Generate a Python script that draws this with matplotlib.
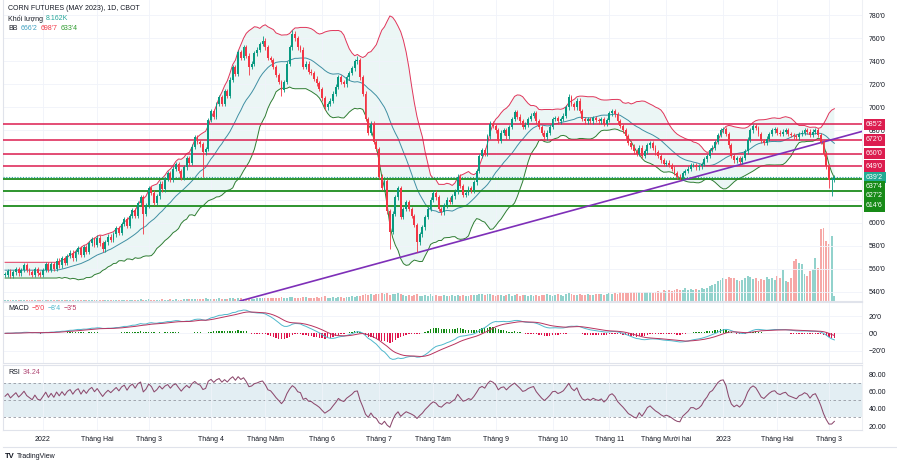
import numpy as np
import pandas as pd
import matplotlib
matplotlib.use("Agg")
import matplotlib.pyplot as plt
from matplotlib import font_manager
from matplotlib.transforms import blended_transform_factory
from matplotlib.lines import Line2D


def pick_font():
    for name in ["Liberation Sans Narrow", "Liberation Sans", "DejaVu Sans"]:
        try:
            font_manager.findfont(name, fallback_to_default=False)
            return name
        except Exception:
            pass
    return "DejaVu Sans"


FONT = pick_font()
plt.rcParams['font.family'] = [FONT, 'DejaVu Sans']

# ---------------- data ----------------
title_text = "CORN FUTURES (MAY 2023), 1D, CBOT"
start_date = "2021-12-13"
end_date = "2023-03-03"
holidays = ["2021-12-24", "2022-01-17", "2022-02-21", "2022-04-15", "2022-05-30",
            "2022-06-20", "2022-07-04", "2022-09-05", "2022-11-24", "2022-12-26",
            "2023-01-02", "2023-01-16", "2023-02-20"]

closes = [
    555, 558, 554, 557, 560, 556, 559, 563, 559, 557, 555, 560, 556, 555,
    559, 564, 559, 564, 560, 567, 563, 569, 565, 571,
    574, 569, 575, 578, 572, 579, 575, 582, 586, 581,
    587, 582, 577, 583, 588, 585, 590, 595, 591, 599,
    603, 597, 606, 611, 606, 617, 622, 608, 615, 630,
    626, 617, 623, 634, 629, 638, 643, 637, 647, 651,
    645, 639, 648, 656, 652, 666, 674, 670, 668, 661,
    664, 689, 697, 692, 703, 709, 703, 714, 710, 724,
    735, 729, 748, 743, 752, 745, 735, 738, 747, 750,
    755, 758, 752, 743, 741, 735, 728, 722, 715, 722,
    738, 752, 764, 760, 752, 750, 735, 738, 731, 730,
    725, 721, 716, 708, 700, 703, 706, 712, 718, 726,
    722, 720, 726, 730, 734, 740, 741, 726, 712, 690,
    678, 686, 670, 664, 640, 630, 636, 610, 592, 608,
    622, 630, 605, 612, 618, 612, 606, 598, 583, 590,
    596, 605, 612, 620, 626, 622, 612, 609, 615, 620,
    618, 623, 627, 640, 632, 624, 626, 630, 628, 635,
    645, 658, 663, 660, 675, 686, 684, 680, 671, 678,
    680, 675, 683, 690, 696, 692, 688, 683, 685, 690,
    693, 695, 688, 683, 678, 674, 678, 683, 690, 691,
    688, 690, 693, 700, 709, 703, 700, 706, 697, 690,
    688, 690, 688, 691, 689, 688, 690, 686, 689, 695,
    697, 694, 688, 684, 680, 675, 669, 666, 662, 660,
    665, 658, 662, 667, 669, 665, 661, 658, 654, 651,
    652, 650, 647, 643, 640, 639, 643, 645, 647, 650,
    650, 648, 649, 651, 655, 658, 663, 665, 670, 676,
    680, 681, 677, 667, 658, 654, 656, 653, 656, 662,
    672, 680, 684, 682, 677, 671, 669, 673, 677, 680,
    681, 678, 677, 679, 680, 677, 676, 675, 674, 677,
    678, 680, 679, 676, 679, 680, 676, 670, 660, 649,
    637, 637, 639.25,
]

volumes_k = [
    1, 1, 1, 1, 1, 1, 1, 1, 1, 1, 1, 1, 1, 1,
    1, 1, 1, 1, 1, 1, 1, 1, 1, 1,
    1, 1, 1, 1, 1, 1, 1, 1, 1, 1,
    2, 2, 1, 2, 2, 2, 2, 2, 2, 2,
    2, 2, 2, 2, 2, 2, 3, 2, 2, 3,
    2, 2, 2, 2, 3, 2, 2, 3, 2, 3,
    2, 2, 3, 3, 3, 3, 3, 3, 3, 3,
    4, 3, 3, 3, 3, 4, 3, 3, 3, 4,
    4, 3, 4, 4, 3, 3, 4, 3, 3, 4,
    4, 4, 5, 4, 4, 5, 5, 4, 6, 5,
    5, 6, 6, 5, 5, 5, 6, 6, 5, 5,
    5, 6, 5, 6, 7, 5, 5, 6, 5, 6,
    6, 5, 6, 6, 7, 6, 7, 7, 9, 10,
    9, 10, 9, 11, 10, 12, 11, 12, 9, 10,
    11, 12, 10, 9, 8, 9, 8, 9, 10, 8,
    8, 9, 8, 10, 8, 9, 7, 8, 9, 7,
    8, 9, 8, 9, 8, 9, 8, 8, 9, 9,
    9, 10, 11, 9, 10, 11, 9, 8, 9, 9,
    8, 9, 10, 8, 9, 10, 8, 9, 9, 8,
    9, 8, 9, 8, 9, 9, 10, 9, 8, 9,
    10, 9, 8, 11, 12, 10, 9, 9, 10, 9,
    9, 10, 9, 9, 10, 11, 10, 9, 10, 12,
    11, 12, 11, 13, 12, 12, 12, 13, 14, 13,
    13, 12, 13, 14, 13, 12, 13, 15, 14, 16,
    15, 16, 15, 17, 18, 17, 16, 19, 17, 18,
    16, 18, 17, 19, 18, 20, 22, 24, 26, 30,
    32, 34, 33, 36, 35, 34, 32, 30, 31, 34,
    38, 36, 33, 35, 30, 33, 31, 36, 33, 34,
    32, 38, 35, 46, 30, 28, 35, 60, 63, 57,
    55, 40, 38, 45, 48, 65, 50, 108, 110, 90,
    86, 98, 8.162,
]

# notable long wicks (bar index -> price)
wick_lows = {51: 590, 73: 640, 90: 728, 102: 710, 142: 577, 152: 575,
             249: 637, 304: 630, 305: 623}
wick_highs = {95: 762, 106: 767, 130: 745, 208: 712}

resistance_levels = [685.25, 672.0, 660.0, 649.0]
support_levels = [637.5, 627.25, 614.75]
last_price = 639.25
trend_points = [(86.7, 532.1), (316.2, 679.2)]  # (bar index, price)

month_labels = ["2022", "Tháng Hai", "Tháng 3", "Tháng 4", "Tháng Năm", "Tháng 6",
                "Tháng 7", "Tháng Tám", "Tháng 9", "Tháng 10", "Tháng 11",
                "Tháng Mười hai", "2023", "Tháng Hai", "Tháng 3"]

volume_label = "Khối lượng"
volume_value = "8.162K"
bb_values = ["666'2", "698'7", "633'4"]
macd_values = ["−5'0", "−8'4", "−3'5"]
rsi_value = "34.24"

# ---------------- derived ----------------
dates = pd.bdate_range(start_date, end_date, freq="C", holidays=holidays)
n = min(len(dates), len(closes), len(volumes_k))
dates = dates[:n]
c = np.array(closes[:n], dtype=float)
vol = np.array(volumes_k[:n], dtype=float)
o = np.concatenate([[c[0]], c[:-1]])
WICK = 2.0
hi = np.maximum(o, c) + WICK
lo = np.minimum(o, c) - WICK
for k, v in wick_lows.items():
    if k < n:
        lo[k] = v
for k, v in wick_highs.items():
    if k < n:
        hi[k] = v
idx = np.arange(n)
up = c >= o

# Bollinger (20, 2); the first window stands in for the bars before the view
s = pd.Series(c)
basis = s.rolling(20, min_periods=20).mean()
sd = s.rolling(20, min_periods=20).std(ddof=0)
basis[:19] = s[:20].mean()
sd[:19] = s[:20].std(ddof=0)
bb_up = basis + 2 * sd
bb_lo = basis - 2 * sd

# MACD (12, 26, 9)
ema12 = s.ewm(span=12, adjust=False).mean()
ema26 = s.ewm(span=26, adjust=False).mean()
macd = ema12 - ema26
signal = macd.ewm(span=9, adjust=False).mean()
hist = macd - signal

# RSI (14), Wilder smoothing seeded with the first 14 moves
delta = np.diff(c, prepend=c[0])
gains = np.clip(delta, 0, None)
losses = np.clip(-delta, 0, None)
ag = gains[1:15].mean()
al = losses[1:15].mean()
rsi = np.zeros(n)
for i in range(n):
    if i > 0:
        ag = (ag * 13 + gains[i]) / 14
        al = (al * 13 + losses[i]) / 14
    rsi[i] = 100 - 100 / (1 + ag / al) if al > 0 else 100

month_pos = []
seen = set()
for i, d in enumerate(dates):
    key = (d.year, d.month)
    if key not in seen:
        seen.add(key)
        if i > 0:
            month_pos.append(i)
month_pos = month_pos[:len(month_labels)]


def fmt_price(p):
    whole = int(np.floor(p + 1e-9))
    eighth = int(round((p - whole) * 8))
    if eighth == 8:
        whole, eighth = whole + 1, 0
    return f"{whole}'{eighth}"


# ---------------- figure ----------------
W, H = 897, 468
fig = plt.figure(figsize=(W / 100, H / 100), dpi=100)


def rect(x0, y0, x1, y1):
    return [x0 / W, 1 - y1 / H, (x1 - x0) / W, (y1 - y0) / H]


UP = "#089981"
DN = "#f23645"
GRID = "#f0f3fa"
BORDER = "#e0e3eb"
TXT = "#131722"
FS = 5.0
BODY_W = 0.7
XMIN, XMAX = -0.76, 316.2
YMIN, YMAX = 532.1, 793.2

ax = fig.add_axes(rect(3, 0, 862, 301))
axv = ax.twinx()
ax.set_zorder(2)
axv.set_zorder(1)
ax.patch.set_visible(False)

ax.set_xlim(XMIN, XMAX)
ax.set_ylim(YMIN, YMAX)

# volume
vcol = np.where(up, "#26a69a", "#ef5350")
axv.bar(idx, vol, width=BODY_W, color=vcol, alpha=0.5, linewidth=0)
axv.set_ylim(0, 301 * 1.5)
axv.set_yticks([])
for sp in axv.spines.values():
    sp.set_visible(False)

# grid and price scale (labels hidden where the level boxes sit)
yt = np.arange(540, 781, 20)
hidden_ticks = {620, 640, 660}
ax.set_yticks(yt)
ax.set_yticklabels(["" if v in hidden_ticks else fmt_price(v) for v in yt])
ax.yaxis.tick_right()
ax.tick_params(axis='y', length=0, pad=5, labelsize=FS, labelcolor=TXT)
ax.set_xticks(month_pos)
ax.tick_params(axis='x', length=0, labelbottom=False)
ax.grid(True, color=GRID, lw=0.6, zorder=0)
for sp in ax.spines.values():
    sp.set_color(BORDER)
    sp.set_linewidth(0.8)
ax.spines['top'].set_visible(False)
ax.spines['right'].set_color("#eef0f4")

# Bollinger
ax.fill_between(idx, bb_lo, bb_up, facecolor="#b2dfdb", alpha=0.25, lw=0, zorder=1)
ax.plot(idx, bb_up, color="#e0355a", lw=0.7, zorder=2)
ax.plot(idx, bb_lo, color="#2e7d32", lw=0.7, zorder=2)
ax.plot(idx, basis, color="#3f8fa3", lw=0.7, zorder=2)

# levels
for lv in resistance_levels:
    ax.axhline(lv, color="#dc1d4f", lw=1.1, zorder=3)
for lv in support_levels:
    ax.axhline(lv, color="#1e8c1e", lw=1.3, zorder=3)
ax.axhline(last_price, color="#26a69a", lw=0.8, ls=(0, (1, 1.5)), zorder=3)

# trend line
ax.axline(trend_points[0], trend_points[1], color="#7e2fb8", lw=1.2, zorder=3)

# candles
ccol = np.where(up, UP, DN)
ax.vlines(idx, lo, hi, colors=ccol, lw=0.6, zorder=4)
ax.bar(idx, np.maximum(np.abs(c - o), 0.5), bottom=np.minimum(o, c), width=BODY_W,
       color=ccol, linewidth=0, zorder=5)

# price labels on the right
trans = blended_transform_factory(ax.transAxes, ax.transData)
labels = [(lv, "#dc1d4f") for lv in resistance_levels]
labels += [(last_price, "#22ab94")]
labels += [(lv, "#178a17") for lv in support_levels]
labels.sort(key=lambda t: -t[0])
gap = 9 * (YMAX - YMIN) / 301.0
prev = None
for lv, col in labels:
    ypos = lv if prev is None else min(lv, prev - gap)
    prev = ypos
    ax.text(1.0047, ypos, fmt_price(lv), transform=trans, ha='left', va='center',
            color='white', fontsize=FS, clip_on=False, zorder=20,
            bbox=dict(boxstyle='square,pad=0.35', fc=col, ec='none'))

# ---------------- MACD ----------------
axm = fig.add_axes(rect(3, 302, 862, 363))
axm.set_xlim(XMIN, XMAX)
axm.set_ylim(-34.5, 36.4)
hcol = np.where(hist >= 0, "#138a13", "#e0144c")
axm.bar(idx, hist, width=0.5, color=hcol, linewidth=0, zorder=2)
axm.plot(idx, macd, color="#4fb8cc", lw=0.7, zorder=3)
axm.plot(idx, signal, color="#b8325e", lw=0.7, zorder=3)
axm.set_yticks([20, 0, -20])
axm.set_yticklabels(["20'0", "0'0", "−20'0"])
axm.yaxis.tick_right()
axm.tick_params(axis='y', length=0, pad=5, labelsize=FS, labelcolor=TXT)
axm.set_xticks(month_pos)
axm.tick_params(axis='x', length=0, labelbottom=False)
axm.grid(True, color=GRID, lw=0.6, zorder=0)
for sp in axm.spines.values():
    sp.set_color(BORDER)
    sp.set_linewidth(0.8)
axm.spines['right'].set_color("#eef0f4")

# ---------------- RSI ----------------
axr = fig.add_axes(rect(3, 365, 862, 430))
axr.set_xlim(XMIN, XMAX)
axr.set_ylim(15.4, 90.4)
axr.axhspan(30, 70, color="#e3eef3", zorder=0.5, lw=0)
for lv in (70, 50, 30):
    axr.axhline(lv, color="#9598a1", lw=0.6, ls=(0, (3, 3)), zorder=1)
axr.plot(idx, rsi, color="#8d4a6e", lw=0.75, zorder=3)
axr.set_yticks([80, 60, 40, 20])
axr.set_yticklabels(["80.00", "60.00", "40.00", "20.00"])
axr.yaxis.tick_right()
axr.tick_params(axis='y', length=0, pad=5, labelsize=FS, labelcolor=TXT)
axr.set_xticks(month_pos)
axr.set_xticklabels(month_labels[:len(month_pos)])
axr.tick_params(axis='x', length=0, pad=4, labelsize=FS, labelcolor=TXT)
axr.grid(True, axis='x', color=GRID, lw=0.6, zorder=0)
for sp in axr.spines.values():
    sp.set_color(BORDER)
    sp.set_linewidth(0.8)
axr.spines['right'].set_color("#eef0f4")

fig.add_artist(Line2D([3 / W, 1.0], [1 - 447 / H] * 2, color=BORDER, lw=0.8))

# ---------------- legends ----------------
renderer = fig.canvas.get_renderer()


def seg_text(x_px, y_px, segments, size=FS, gap_px=3):
    x = x_px
    for txt, col in segments:
        t = fig.text(x / W, 1 - y_px / H, txt, color=col, fontsize=size,
                     ha='left', va='center')
        bb = t.get_window_extent(renderer=renderer)
        x += bb.width + gap_px


seg_text(8, 9, [(title_text, TXT)])
seg_text(8, 19, [(volume_label, TXT), (volume_value, "#26a69a")])
seg_text(8, 28, [("BB", TXT), (bb_values[0], "#3d9fc0"), (bb_values[1], "#f23645"),
                 (bb_values[2], "#2e9b2e")])
seg_text(8, 309, [("MACD", TXT), (macd_values[0], "#f23645"), (macd_values[1], "#4fb8cc"),
                  (macd_values[2], "#b8325e")])
seg_text(8, 372, [("RSI", TXT), (rsi_value, "#b04a76")])

t = fig.text(5 / W, 1 - 457 / H, "TV", fontsize=5.5, fontweight='bold', color=TXT,
             ha='left', va='center')
bb = t.get_window_extent(renderer=renderer)
fig.text((5 + bb.width + 2) / W, 1 - 457 / H, "TradingView", fontsize=FS, color=TXT,
         ha='left', va='center')

fig.savefig("out.png", dpi=100, facecolor="white")
